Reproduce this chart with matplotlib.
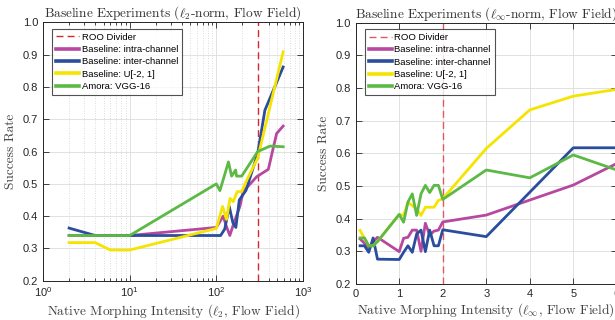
import numpy as np
import matplotlib
matplotlib.use("Agg")
import matplotlib.pyplot as plt
from matplotlib.ticker import LogLocator, MultipleLocator, NullFormatter

plt.rcParams['font.family'] = ['Liberation Sans', 'DejaVu Sans']
plt.rcParams['mathtext.fontset'] = 'cm'

# ---------------- data: left (l2-norm, log x) ----------------
l2_divider = 300
l2_intra_x = [2, 10, 100, 120, 130, 143, 160, 187, 204, 292, 398, 496, 590]
l2_intra_y = [0.34, 0.34, 0.365, 0.40, 0.37, 0.34, 0.38, 0.43, 0.476, 0.522, 0.545, 0.656, 0.679]
l2_inter_x = [2, 4, 10, 100, 112, 125, 141, 155, 168, 184, 220, 300, 363, 590]
l2_inter_y = [0.363, 0.34, 0.34, 0.34, 0.34, 0.36, 0.43, 0.38, 0.365, 0.45, 0.48, 0.594, 0.728, 0.862]
l2_unif_x = [2, 4, 6, 10, 100, 118, 131, 144, 157, 174, 196, 223, 300, 590]
l2_unif_y = [0.318, 0.318, 0.295, 0.295, 0.362, 0.43, 0.39, 0.455, 0.445, 0.476, 0.476, 0.51, 0.58, 0.909]
l2_amora_x = [2, 10, 100, 110, 138, 150, 167, 171, 196, 300, 415, 590]
l2_amora_y = [0.34, 0.34, 0.50, 0.479, 0.568, 0.524, 0.543, 0.524, 0.524, 0.60, 0.617, 0.615]

# ---------------- data: right (linf-norm) ----------------
li_divider = 2
li_x = [0.1, 0.2, 0.3, 0.4, 0.5, 1.0, 1.1, 1.2, 1.3, 1.4, 1.5, 1.6, 1.7, 1.8, 1.9, 2.0, 3, 4, 5, 6]
li_intra_y = [0.338, 0.325, 0.309, 0.33, 0.343, 0.299, 0.34, 0.343, 0.365, 0.365, 0.30, 0.386, 0.35, 0.362, 0.365, 0.39, 0.411, 0.457, 0.503, 0.569]
li_inter_y = [0.317, 0.317, 0.297, 0.341, 0.276, 0.275, 0.297, 0.317, 0.297, 0.353, 0.365, 0.299, 0.365, 0.317, 0.317, 0.366, 0.345, 0.481, 0.617, 0.617]
li_unif_y = [0.364, 0.34, 0.317, 0.317, 0.33, 0.413, 0.41, 0.45, 0.44, 0.43, 0.41, 0.435, 0.435, 0.435, 0.456, 0.461, 0.615, 0.733, 0.775, 0.796]
li_amora_y = [0.341, 0.341, 0.317, 0.317, 0.33, 0.413, 0.389, 0.451, 0.476, 0.41, 0.476, 0.502, 0.48, 0.502, 0.502, 0.459, 0.549, 0.525, 0.595, 0.549]

labels = ['ROO Divider', 'Baseline: intra-channel', 'Baseline: inter-channel',
          'Baseline: U[-2, 1]', 'Amora: VGG-16']
c_intra = '#B6499F'
c_inter = '#2A4D9E'
c_unif = '#F5E400'
c_amora = '#5CB946'
c_div = '#D8262F'
txt = '#262626'
lw = 2.0

fig = plt.figure(figsize=(6.15, 3.2), dpi=100)
axL = fig.add_axes([0.0699, 0.1228, 0.4228, 0.807])
axR = fig.add_axes([0.5784, 0.1125, 0.4246, 0.8166])


def style(ax):
    ax.set_ylim(0.2, 1.0)
    ax.yaxis.set_major_locator(MultipleLocator(0.1))
    ax.tick_params(which='both', direction='in', top=True, right=True,
                   colors=txt, labelsize=8, width=0.6)
    ax.tick_params(which='major', length=4)
    ax.tick_params(which='minor', length=2)
    for s in ax.spines.values():
        s.set_color(txt)
        s.set_linewidth(0.7)
    ax.grid(True, which='major', color='#DCDCDC', linewidth=0.6)
    ax.set_axisbelow(True)


# Left
axL.set_xscale('log')
axL.set_xlim(1, 1000)
axL.xaxis.set_major_locator(LogLocator(base=10, numticks=10))
axL.xaxis.set_minor_locator(LogLocator(base=10, subs=np.arange(2, 10), numticks=20))
axL.xaxis.set_minor_formatter(NullFormatter())
style(axL)
axL.grid(True, which='minor', axis='x', color='#D0D0D0', linestyle=(0, (1, 2)), linewidth=0.6)
axL.axvline(l2_divider, color=c_div, linestyle=(0, (5, 3)), linewidth=1.0, label=labels[0])
axL.plot(l2_intra_x, l2_intra_y, color=c_intra, lw=lw, label=labels[1])
axL.plot(l2_inter_x, l2_inter_y, color=c_inter, lw=lw, label=labels[2])
axL.plot(l2_unif_x, l2_unif_y, color=c_unif, lw=lw, label=labels[3])
axL.plot(l2_amora_x, l2_amora_y, color=c_amora, lw=lw, label=labels[4])
axL.set_title(r'Baseline Experiments ($\ell_2$-norm, Flow Field)', family='cmr10',
              fontsize=9.6, color='#333333', pad=4)
axL.set_xlabel(r'Native Morphing Intensity ($\ell_2$, Flow Field)', family='cmr10',
               fontsize=9.6, color='#404040', labelpad=2)
axL.set_ylabel('Success Rate', family='cmr10', fontsize=9.6, color='#404040', labelpad=4)
legL = axL.legend(loc='upper left', bbox_to_anchor=(0.036, 0.975), fontsize=6.8,
                  frameon=True, fancybox=False, edgecolor=txt, handlelength=2.4,
                  borderpad=0.4, labelspacing=0.35, handletextpad=0.3, borderaxespad=0)
legL.get_frame().set_linewidth(0.8)
for h in legL.get_lines()[1:]:
    h.set_linewidth(2.6)

# Right
axR.set_xlim(0, 6)
axR.xaxis.set_major_locator(MultipleLocator(1))
style(axR)
axR.axvline(li_divider, color='#E4575F', linestyle=(0, (5, 3)), linewidth=1.0, label=labels[0])
axR.plot(li_x, li_intra_y, color=c_intra, lw=lw, label=labels[1])
axR.plot(li_x, li_inter_y, color=c_inter, lw=lw, label=labels[2])
axR.plot(li_x, li_unif_y, color=c_unif, lw=lw, label=labels[3])
axR.plot(li_x, li_amora_y, color=c_amora, lw=lw, label=labels[4])
axR.set_title(r'Baseline Experiments ($\ell_\infty$-norm, Flow Field)', family='cmr10',
              fontsize=9.6, color='#333333', pad=4)
axR.set_xlabel(r'Native Morphing Intensity ($\ell_\infty$, Flow Field)', family='cmr10',
               fontsize=9.6, color='#404040', labelpad=2)
axR.set_ylabel('Success Rate', family='cmr10', fontsize=9.6, color='#404040', labelpad=4)
legR = axR.legend(loc='upper left', bbox_to_anchor=(0.036, 0.975), fontsize=6.8,
                  frameon=True, fancybox=False, edgecolor=txt, handlelength=2.4,
                  borderpad=0.4, labelspacing=0.35, handletextpad=0.3, borderaxespad=0)
legR.get_frame().set_linewidth(0.8)
for h in legR.get_lines()[1:]:
    h.set_linewidth(2.6)

fig.savefig('out.png', dpi=100)
